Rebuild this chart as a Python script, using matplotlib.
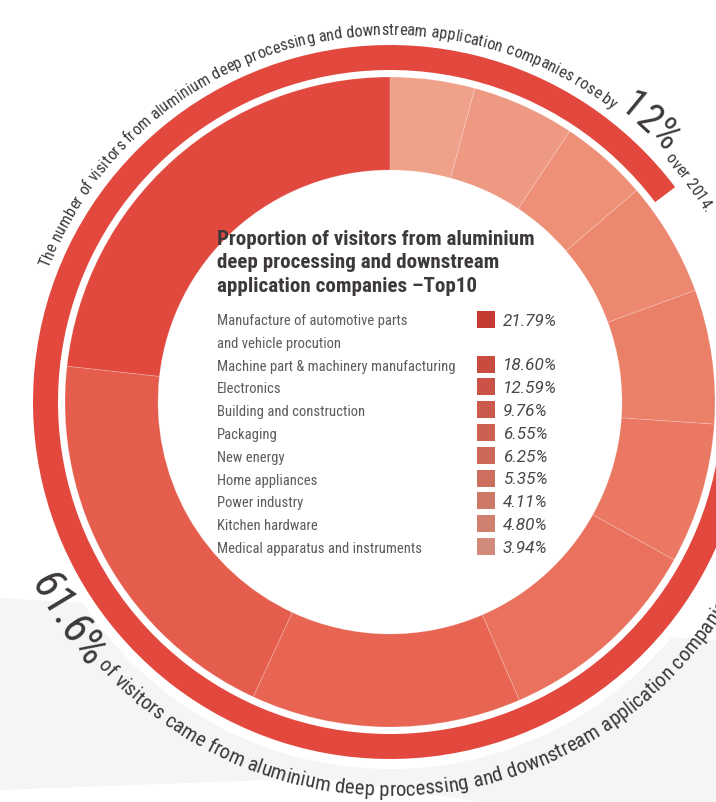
import math
import matplotlib
matplotlib.use("Agg")
import matplotlib.pyplot as plt
from matplotlib import font_manager
from matplotlib.font_manager import FontProperties, findfont, get_font
from matplotlib.patches import Wedge, Circle, Polygon, Rectangle

# ---- data ----
categories = [
    "Manufacture of automotive parts\nand vehicle procution",
    "Machine part & machinery manufacturing",
    "Electronics",
    "Building and construction",
    "Packaging",
    "New energy",
    "Home appliances",
    "Power industry",
    "Kitchen hardware",
    "Medical apparatus and instruments",
]
shares = [21.79, 18.60, 12.59, 9.76, 6.55, 6.25, 5.35, 4.11, 4.80, 3.94]
share_labels = [f"{v:.2f}%" for v in shares]

wedge_colors = ["#E1483E", "#E55D4D", "#E86554", "#E9715E", "#EA7862",
                "#EB8068", "#EC8870", "#EE9078", "#EE9A82", "#EFA18A"]
legend_colors = ["#C63A33", "#C94B40", "#CA5246", "#CB5A4C", "#CC6152",
                 "#CC6858", "#CD6F5F", "#CE7867", "#D0806F", "#D28A7B"]

title_lines = ["Proportion of visitors from aluminium",
               "deep processing and downstream",
               "application companies \u2013Top10"]

top_small_1 = "The number of visitors from aluminium deep processing and downstream application companies rose by "
top_big = "12%"
top_small_2 = " over 2014."
bottom_big = "61.6%"
bottom_small = " of visitors came from aluminium deep processing and downstream application companies"

# ---- canvas in pixel units, y pointing up ----
W, H, DPI = 716, 802, 100
CX, CY = 390, H - 402
BAND_RED = "#E2483E"
DARK = "#3D393A"

available = {f.name for f in font_manager.fontManager.ttflist}
COND = next((n for n in ["Roboto Condensed", "Liberation Sans Narrow",
                         "Open Sans Condensed", "PT Sans Narrow"] if n in available), "Roboto")
ITAL = "Roboto" if "Roboto" in available else "DejaVu Sans"


def Y(y_img):
    return H - y_img


def text_adv(text, family, size, weight="normal", style="normal"):
    # advance width in pixels, from the font's own metrics
    prop = FontProperties(family=family, size=size, weight=weight, style=style)
    font = get_font(findfont(prop))
    font.set_size(size, 72)
    total = 0.0
    for ch in text:
        total += font.load_char(ord(ch)).linearHoriAdvance / 65536
    return total * DPI / 72


def fit_size(text, target_px, family, weight="normal", style="normal"):
    return 10 * target_px / text_adv(text, family, 10, weight, style)


fig = plt.figure(figsize=(W / DPI, H / DPI), dpi=DPI)
ax = fig.add_axes([0, 0, 1, 1])


def arc_text(segments, start_deg, direction, color):
    # direction -1: clockwise along the top, letters upright outward
    # direction +1: counter-clockwise along the bottom, letters upright inward
    ang = math.radians(start_deg)
    for txt, size, radius in segments:
        for ch in txt:
            adv = text_adv(ch, COND, size)
            mid = ang + direction * adv / 2 / radius
            x = CX + radius * math.cos(mid)
            y = CY + radius * math.sin(mid)
            rot = math.degrees(mid) + (90 if direction > 0 else -90)
            if ch != " ":
                ax.text(x, y, ch, fontsize=size, family=COND, color=color,
                        rotation=rot, rotation_mode="anchor",
                        ha="center", va="baseline", zorder=6)
            ang += direction * adv / radius


# light grey swoosh in the background
swoosh = [(0, 598), (716, 640), (716, 802), (480, 802), (320, 778), (0, 790)]
ax.add_patch(Polygon([(x, Y(y)) for x, y in swoosh], closed=True,
                     facecolor="#F5F5F5", edgecolor="none", zorder=0))
ax.add_patch(Circle((CX, CY), 367, facecolor="white", edgecolor="none", zorder=1))

# outer red band
ax.add_patch(Wedge((CX, CY), 357, 37, 350, width=25, facecolor=BAND_RED,
                   edgecolor="none", zorder=2))

# donut
ax.pie(shares, colors=wedge_colors, startangle=90, counterclock=True,
       radius=325, center=(CX, CY), frame=True,
       wedgeprops=dict(width=93, edgecolor=(1, 1, 1, 0.22), linewidth=0.6, zorder=3))

# curved texts
s_top = fit_size(top_small_1, 679.6, COND)
s_top_big = fit_size(top_big, 64, COND)
arc_text([(top_small_1, s_top, 367), (top_big, s_top_big, 371),
          (top_small_2, s_top, 367)], 158.6, -1, DARK)

s_bot_big = fit_size(bottom_big, 104, COND)
s_bot = fit_size(" of visitors came from aluminium deep processing and downstream application",
                 657, COND)
arc_text([(bottom_big, s_bot_big, 403), (bottom_small, s_bot, 394)], 206.5, 1, DARK)

# title
s_title = fit_size(title_lines[0], 318, COND, weight="bold")
for line, base in zip(title_lines, [245, 268.5, 292]):
    ax.text(217, Y(base), line, fontsize=s_title, family=COND, weight="bold",
            color=DARK, ha="left", va="baseline", zorder=6)

# legend
s_lab = fit_size(categories[1], 238, COND)
s_pct = fit_size(share_labels[0], 54, ITAL, style="italic")
for i, (cat, lab, col) in enumerate(zip(categories, share_labels, legend_colors)):
    yc = 319 if i == 0 else 364 + (i - 1) * 22.8
    ax.add_patch(Rectangle((477, Y(yc) - 8.5), 18, 17, facecolor=col,
                           edgecolor="none", zorder=6))
    ax.text(503, Y(yc + 6.5), lab, fontsize=s_pct, family=ITAL, style="italic",
            color="#4A4647", ha="left", va="baseline", zorder=6)
    for j, part in enumerate(cat.split("\n")):
        ax.text(217, Y(yc + 6.5 + j * 22.5), part, fontsize=s_lab, family=COND,
                color="#5E5A5B", ha="left", va="baseline", zorder=6)

ax.set_xlim(0, W)
ax.set_ylim(0, H)
ax.set_aspect("auto")
ax.axis("off")

fig.savefig("out.png", dpi=DPI)
